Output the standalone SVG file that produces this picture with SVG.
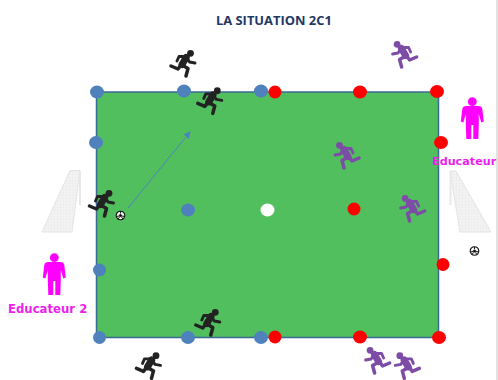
<svg xmlns="http://www.w3.org/2000/svg" width="498" height="380" viewBox="0 0 498 380">
<style>
.blue{fill:#4f81bd}.red{fill:#fe0000}
.lbl{font-family:"DejaVu Sans",sans-serif;font-weight:700;font-size:11.700px;fill:#ec1fec}
.title{font-family:"Open Sans",sans-serif;font-weight:700;font-size:12.900px;fill:#1f3864}
.black{color:#222222}.purple{color:#7d4ca6}
.net{fill:url(#mesh);stroke:#e4e4e4;stroke-width:1}
.post{stroke:#e8e8e8;stroke-width:2;fill:none}
</style>
<defs>
<pattern id="mesh" width="3" height="3" patternUnits="userSpaceOnUse"><rect width="3" height="3" fill="#f3f3f3"/><path d="M0 0H3M0 0V3" stroke="#e3e3e3" stroke-width=".6"/></pattern>
<g id="run" fill="none" stroke="currentColor" stroke-linecap="round" stroke-linejoin="round">
<circle cx="7.500" cy="-10.700" r="3.400" fill="currentColor" stroke="none"/>
<path d="M3.200-6.500 L-1 0.500" stroke-width="7"/>
<path d="M3-7.500 L-4-7.500 L-6-3 M3.500-7 L6.500-2 L12-1" stroke-width="2.900"/>
<path d="M-1 1 L5 4.500 L3 12 M-2 1 L-5 5 L-12 2" stroke-width="3.500"/>
</g>
<g id="edu" fill="#ff00ff">
<circle cx="0" cy="-15.300" r="4.400"/>
<path d="M-6-11 H6 Q9.500-11 10-8 L11.500 4.500 L9 5.500 L6.500-3 L6.500 7 L6 22 H1 V8 H-1 V22 H-6 L-6.500 7 L-6.500-3 L-9 5.500 L-11.500 4.500 L-10-8 Q-9.500-11 -6-11Z"/>
</g>
<g id="ball">
<circle r="4.300" fill="#f4f8f4" stroke="#111" stroke-width="1.100"/>
<circle r="1.500" fill="#111"/>
<path d="M0-4V-2M-4 1L-1.500 0.500M4 1L1.500 0.500M-2.500 3.500L-1 1.500M2.500 3.500L1 1.500" stroke="#111" stroke-width="1"/>
</g>
<marker id="ah" viewBox="0 0 8 8" refX="7" refY="4" markerWidth="7" markerHeight="7" orient="auto" markerUnits="userSpaceOnUse"><path d="M0 0L8 4L0 8Z" fill="#4f81bd"/></marker>
</defs>
<rect width="498" height="380" fill="#fff"/>
<rect x="496" y="0" width="2" height="380" fill="#e2e2e2"/>
<g id="field"><rect x="96.500" y="92" width="342" height="245.500" fill="#52bf5e" stroke="#3a6a94" stroke-width="1.500"/></g>
<g id="goal-left"><path class="net" d="M70 170.500H80L72 232H42Z"/><path class="post" d="M80 171V205"/></g>
<g id="goal-right"><path class="net" d="M450 171H456L491 232H460Z"/><path class="post" d="M450.500 171V205"/></g>
<g id="connectors"><path d="M128 208L190 132" fill="none" stroke="#4f81bd" stroke-width="1" marker-end="url(#ah)"/></g>
<g id="blue-dots" class="blue">
<ellipse cx="97" cy="92" rx="7" ry="6.500"/><ellipse cx="184" cy="91" rx="7" ry="6.500"/><ellipse cx="261" cy="91" rx="7" ry="6.500"/>
<ellipse cx="96" cy="142.500" rx="7" ry="6.500"/><ellipse cx="188" cy="210" rx="7" ry="6.500"/><ellipse cx="99.500" cy="270" rx="6.500" ry="6.500"/>
<ellipse cx="99.500" cy="337.500" rx="6.500" ry="6.500"/><ellipse cx="188" cy="337.500" rx="7" ry="6.500"/><ellipse cx="261" cy="337.500" rx="7" ry="6.500"/>
</g>
<g id="red-dots" class="red">
<ellipse cx="275" cy="92" rx="6.500" ry="6.500"/><ellipse cx="360" cy="92" rx="7" ry="6.500"/><ellipse cx="437" cy="91.500" rx="7" ry="6.500"/>
<ellipse cx="441" cy="142.500" rx="7" ry="6.500"/><ellipse cx="354" cy="209" rx="6.500" ry="6.500"/><ellipse cx="443" cy="264.500" rx="6.500" ry="6.500"/>
<ellipse cx="275" cy="337" rx="6.500" ry="6.500"/><ellipse cx="360" cy="337" rx="7" ry="6.500"/><ellipse cx="439" cy="337.500" rx="7" ry="6.500"/>
</g>
<g id="center-dot"><ellipse cx="267.500" cy="210" rx="7" ry="6.500" fill="#fff"/></g>
<g id="black-players" class="black">
<use href="#run" transform="translate(183 64)"/>
<use href="#run" transform="translate(209.800 101.400)"/>
<use href="#run" transform="translate(101.500 204)"/>
<use href="#run" transform="translate(207.800 323)"/>
<use href="#run" transform="translate(148.500 366.400)"/>
</g>
<g id="purple-players" class="purple">
<use href="#run" transform="translate(404.600 55) scale(-1 1)"/>
<use href="#run" transform="translate(347 156) scale(-1 1)"/>
<use href="#run" transform="translate(412.600 209) scale(-1 1)"/>
<use href="#run" transform="translate(377.600 361) scale(-1 1)"/>
<use href="#run" transform="translate(407.300 366.400) scale(-1 1)"/>
</g>
<g id="balls">
<use href="#ball" x="120.500" y="215.500"/>
<use href="#ball" x="474.500" y="251"/>
</g>
<g id="educateur-2"><use href="#edu" x="54.300" y="273"/><text class="lbl" x="8" y="313">Educateur 2</text></g>
<g id="educateur-1"><use href="#edu" x="472.300" y="117"/><text class="lbl" x="432" y="165" style="font-size:11.200px">Educateur</text></g>
<g id="title"><text class="title" x="216" y="24.500">LA SITUATION 2C1</text></g>
</svg>
